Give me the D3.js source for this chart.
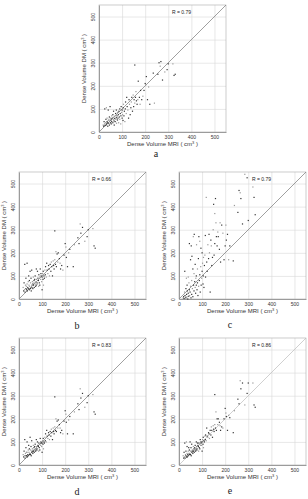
<!DOCTYPE html>
<html>
<head>
<meta charset="utf-8">
<script src="https://cdn.jsdelivr.net/npm/d3@7/dist/d3.min.js"></script>
<style>
body { margin: 0; background: #fff; }
</style>
</head>
<body>
<svg width="308" height="499"></svg>
<script>
// MRI dense volume (shared x for all panels), cm^3
var mriVolume = [
  18, 20, 22, 24, 25, 26, 28, 30, 30, 32,
  33, 35, 35, 36, 38, 40, 40, 42, 43, 45,
  45, 46, 48, 50, 50, 52, 53, 55, 55, 56,
  58, 60, 60, 62, 63, 65, 65, 66, 68, 70,
  70, 72, 73, 75, 75, 76, 78, 80, 80, 82,
  84, 85, 86, 88, 90, 90, 92, 94, 95, 96,
  98, 100, 100, 102, 104, 105, 106, 108, 110, 112,
  114, 115, 118, 120, 122, 125, 128, 130, 132, 135,
  138, 140, 142, 145, 148, 150, 152, 155, 155, 158,
  160, 162, 165, 168, 170, 175, 178, 180, 185, 190,
  195, 200, 203, 205, 210, 215, 220, 235, 240, 255,
  260, 265, 268, 275, 285, 295, 300, 320, 325, 330
];

// DM dense volume per method, cm^3
var dmA = [
  30, 25, 45, 35, 100, 28, 40, 55, 30, 105,
  35, 45, 60, 40, 25, 50, 95, 38, 55, 65,
  30, 48, 110, 40, 60, 52, 35, 70, 45, 58,
  62, 40, 75, 55, 90, 48, 65, 30, 58, 70,
  45, 80, 55, 62, 95, 38, 70, 52, 85, 60,
  75, 40, 90, 65, 55, 100, 80, 35, 70, 110,
  85, 60, 95, 75, 50, 105, 120, 70, 90, 45,
  100, 130, 80, 150, 110, 95, 60, 140, 120, 75,
  105, 130, 150, 90, 160, 110, 140, 125, 290, 150,
  175, 135, 120, 140, 220, 150, 120, 180, 140, 155,
  180, 210, 205, 240, 140, 195, 120, 255, 125, 250,
  300, 285, 305, 225, 260, 270, 295, 295, 245, 250
];
var dmB = [
  50, 35, 70, 40, 150, 30, 60, 45, 90, 55,
  40, 155, 65, 35, 50, 75, 45, 100, 60, 40,
  80, 55, 120, 45, 70, 90, 35, 60, 125, 50,
  75, 65, 45, 95, 60, 80, 70, 50, 85, 65,
  100, 55, 75, 130, 60, 85, 70, 120, 65, 90,
  80, 55, 105, 70, 95, 60, 130, 85, 110, 100,
  75, 95, 40, 110, 85, 120, 60, 100, 90, 125,
  105, 140, 95, 155, 125, 110, 145, 130, 100, 150,
  120, 160, 140, 100, 165, 145, 130, 170, 295, 150,
  205, 140, 195, 160, 200, 175, 155, 130, 145, 125,
  190, 240, 225, 180, 140, 200, 215, 140, 235, 265,
  240, 325, 285, 310, 250, 270, 300, 305, 230, 220
];
var dmC = [
  5, 10, 2, 30, 120, 15, 8, 45, 5, 90,
  20, 60, 10, 35, 0, 95, 25, 12, 70, 40,
  240, 15, 30, 170, 55, 5, 230, 80, 20, 185,
  45, 130, 10, 270, 60, 35, 110, 280, 75, 50,
  150, 25, 90, 60, 100, 235, 40, 70, 130, 15,
  175, 55, 270, 80, 250, 105, 30, 140, 220, 60,
  90, 200, 120, 155, 65, 100, 180, 50, 145, 190,
  275, 95, 440, 160, 120, 235, 175, 280, 200, 30,
  255, 230, 145, 180, 300, 410, 190, 370, 240, 435,
  330, 270, 230, 290, 270, 215, 330, 160, 320, 285,
  170, 230, 320, 255, 280, 170, 230, 165, 405, 375,
  470, 460, 435, 325, 540, 525, 340, 485, 440, 365
];
var dmD = [
  45, 35, 60, 40, 110, 30, 50, 40, 75, 55,
  40, 100, 55, 35, 45, 65, 40, 85, 55, 45,
  70, 50, 120, 45, 65, 80, 40, 60, 105, 55,
  70, 60, 50, 85, 60, 75, 65, 55, 80, 65,
  90, 60, 70, 110, 65, 80, 70, 100, 65, 85,
  80, 60, 95, 75, 90, 65, 115, 85, 100, 95,
  80, 95, 55, 105, 90, 115, 70, 100, 95, 120,
  105, 135, 100, 150, 125, 115, 140, 130, 110, 145,
  125, 155, 140, 110, 160, 145, 135, 165, 295, 150,
  200, 145, 190, 160, 195, 175, 160, 140, 150, 135,
  190, 235, 220, 185, 135, 195, 210, 135, 230, 265,
  240, 330, 290, 310, 250, 270, 300, 305, 230, 220
];
var dmE = [
  40, 30, 55, 35, 95, 30, 45, 40, 60, 100,
  35, 80, 50, 35, 45, 60, 40, 75, 50, 45,
  65, 50, 100, 45, 60, 75, 40, 60, 90, 55,
  65, 60, 50, 80, 60, 70, 65, 55, 75, 65,
  85, 60, 70, 100, 65, 80, 70, 95, 65, 85,
  80, 60, 95, 75, 90, 70, 110, 85, 100, 95,
  85, 100, 60, 110, 90, 120, 75, 105, 100, 125,
  110, 130, 105, 160, 125, 120, 140, 135, 115, 150,
  130, 165, 150, 120, 170, 155, 145, 175, 305, 160,
  230, 150, 200, 175, 200, 185, 170, 150, 165, 160,
  200, 245, 225, 210, 150, 215, 205, 140, 235, 285,
  265, 365, 330, 355, 260, 310, 355, 355, 260, 250
];

var panelLetters = ['a', 'b', 'c', 'd', 'e'];
var rValues = ['0.79', '0.66', '0.79', '0.83', '0.86'];
var tickValues = [0, 100, 200, 300, 400, 500];

// layout of the five panels
var size = 127;
var panels = [
  {left: 99, top: 5, dm: dmA, letterX: 156, letterY: 157, diag: '#777'},
  {left: 19, top: 172, dm: dmB, letterX: 77, letterY: 329, diag: '#777'},
  {left: 179, top: 172, dm: dmC, letterX: 230, letterY: 328, diag: '#777'},
  {left: 19, top: 338, dm: dmD, letterX: 77, letterY: 495, diag: '#777'},
  {left: 179, top: 338, dm: dmE, letterX: 230, letterY: 494, diag: '#bbb'}
];

var svg = d3.select('svg');
var x = d3.scaleLinear().domain([0, 550]).range([0, size]);
var y = d3.scaleLinear().domain([0, 550]).range([size, 0]);

panels.forEach(function(p, i) {
  var g = svg.append('g').attr('transform', 'translate(' + p.left + ',' + p.top + ')');

  // gridlines
  g.append('g').attr('transform', 'translate(0,' + size + ')')
    .call(d3.axisBottom(x).tickValues(tickValues.slice(1)).tickSize(-size).tickFormat(''))
    .call(s => s.select('.domain').remove())
    .selectAll('line').attr('stroke', '#d8d8d8').attr('stroke-width', 0.6);
  g.append('g')
    .call(d3.axisLeft(y).tickValues(tickValues.slice(1)).tickSize(-size).tickFormat(''))
    .call(s => s.select('.domain').remove())
    .selectAll('line').attr('stroke', '#d8d8d8').attr('stroke-width', 0.6);

  // frame
  g.append('rect').attr('width', size).attr('height', size)
    .attr('fill', 'none').attr('stroke', '#aaa').attr('stroke-width', 0.6);

  // diagonal
  g.append('line')
    .attr('x1', x(0)).attr('y1', y(0)).attr('x2', x(550)).attr('y2', y(550))
    .attr('stroke', p.diag).attr('stroke-width', 0.7);

  // axes with labels
  var xa = g.append('g').attr('transform', 'translate(0,' + size + ')')
    .call(d3.axisBottom(x).tickValues(tickValues).tickSize(0).tickPadding(3));
  xa.select('.domain').attr('stroke', '#888').attr('stroke-width', 0.8);
  xa.selectAll('text').attr('font-size', 5).attr('fill', '#333')
    .attr('font-family', 'Liberation Sans, Arial, sans-serif');

  var ya = g.append('g')
    .call(d3.axisLeft(y).tickValues(tickValues).tickSize(0).tickPadding(0));
  ya.select('.domain').attr('stroke', '#888').attr('stroke-width', 0.8);
  ya.selectAll('text').attr('font-size', 5).attr('fill', '#333')
    .attr('font-family', 'Liberation Sans, Arial, sans-serif')
    .attr('text-anchor', 'middle').attr('dy', 0).attr('x', 0).attr('y', 0)
    .attr('transform', 'translate(-4,0) rotate(-90)');

  // points
  var pts = mriVolume.map((v, k) => ({mri: v, dm: p.dm[k]}));
  g.selectAll('.pt').data(pts).enter().append('rect')
    .attr('x', d => x(d.mri) - 0.6).attr('y', d => y(d.dm) - 0.6)
    .attr('width', 1.2).attr('height', 1.2)
    .attr('fill', (d, k) => k % 3 === 0 ? '#999' : '#333');

  // R value
  g.append('text').attr('x', 73).attr('y', 9)
    .attr('font-size', 5).attr('fill', '#222')
    .attr('font-family', 'Liberation Sans, Arial, sans-serif')
    .text('R = ' + rValues[i]);

  // axis titles
  var xt = g.append('text').attr('x', size / 2).attr('y', size + 14)
    .attr('text-anchor', 'middle').attr('font-size', 6).attr('fill', '#333')
    .attr('font-family', 'Liberation Sans, Arial, sans-serif');
  xt.append('tspan').text('Dense Volume MRI ( cm');
  xt.append('tspan').attr('font-size', 4).attr('dy', -2).text('3');
  xt.append('tspan').attr('dy', 2).text(' )');

  var yt = g.append('text')
    .attr('transform', 'translate(-13,' + size / 2 + ') rotate(-90)')
    .attr('text-anchor', 'middle').attr('font-size', 6).attr('fill', '#333')
    .attr('font-family', 'Liberation Sans, Arial, sans-serif');
  yt.append('tspan').text('Dense Volume DM ( cm');
  yt.append('tspan').attr('font-size', 4).attr('dy', -2).text('3');
  yt.append('tspan').attr('dy', 2).text(' )');

  // panel letter
  svg.append('text').attr('x', p.letterX).attr('y', p.letterY)
    .attr('text-anchor', 'middle').attr('font-size', 10).attr('fill', '#222')
    .attr('font-family', 'Liberation Serif, DejaVu Serif, serif')
    .text(panelLetters[i]);
});
</script>
</body>
</html>
